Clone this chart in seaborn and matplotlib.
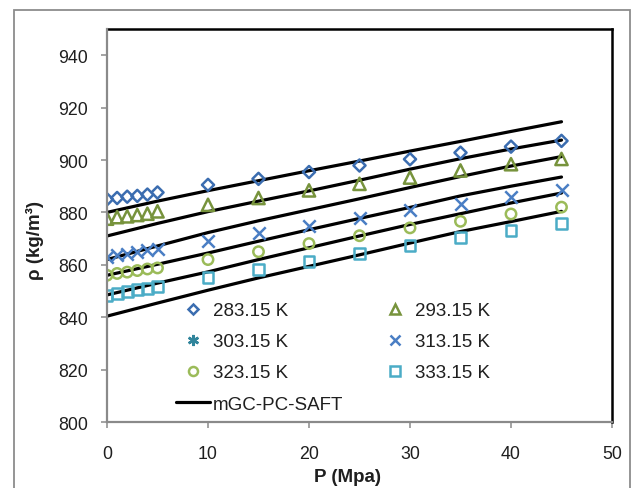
import matplotlib
matplotlib.use("Agg")
import matplotlib.pyplot as plt
import seaborn as sns
import pandas as pd
from matplotlib.lines import Line2D
from matplotlib.patches import Rectangle

# ---- experimental data (P in MPa, rho in kg/m3) ----
P_exp = [0, 1, 2, 3, 4, 5, 10, 15, 20, 25, 30, 35, 40, 45]
rho_283 = [885.0, 885.5, 886.0, 886.3, 886.8, 887.6, 890.5, 892.8, 895.4, 897.9, 900.3, 902.8, 905.1, 907.3]
rho_293 = [877.6, 878.2, 878.5, 879.0, 879.5, 880.4, 882.9, 885.5, 888.4, 890.9, 893.3, 896.0, 898.4, 900.4]
rho_303 = []  # listed in legend only
rho_313 = [863.0, 863.7, 864.3, 865.0, 865.5, 866.1, 869.2, 872.2, 875.0, 877.9, 880.8, 883.2, 885.7, 888.4]
rho_323 = [856.0, 856.7, 857.2, 857.8, 858.4, 858.8, 862.0, 865.0, 868.1, 871.1, 874.1, 876.6, 879.4, 882.0]
rho_333 = [848.4, 849.1, 849.7, 850.6, 851.0, 851.8, 855.0, 858.2, 861.4, 864.3, 867.3, 870.3, 873.0, 875.7]

# ---- model (mGC-PC-SAFT) curves ----
P_model = [0, 5, 10, 15, 20, 25, 30, 35, 40, 45]
model_283 = [880.0, 884.3, 888.3, 892.1, 895.9, 899.6, 903.4, 907.1, 910.9, 914.6]
model_293 = [871.0, 875.8, 880.3, 884.3, 888.2, 892.3, 896.5, 900.5, 904.2, 907.6]
model_303 = [862.0, 867.2, 872.3, 876.8, 881.0, 885.2, 889.5, 893.7, 897.7, 901.3]
model_313 = [856.0, 860.2, 864.5, 869.0, 873.4, 877.7, 881.9, 886.3, 890.0, 893.5]
model_323 = [848.5, 853.0, 857.3, 862.0, 866.5, 871.0, 875.4, 879.5, 883.6, 887.4]
model_333 = [840.4, 845.4, 850.3, 855.0, 859.4, 863.8, 868.3, 872.7, 876.5, 880.4]

labels = ["283.15 K", "293.15 K", "303.15 K", "313.15 K", "323.15 K", "333.15 K"]
model_label = "mGC-PC-SAFT"

exp_sets = [rho_283, rho_293, rho_303, rho_313, rho_323, rho_333]
model_sets = [model_283, model_293, model_303, model_313, model_323, model_333]

colors = ["#3B6DB0", "#77933C", "#31859C", "#4A7EC4", "#9BBB59", "#4BACC6"]
markers = ["D", "^", (6, 2, 0), "x", "o", "s"]
sizes = [38, 78, 70, 80, 56, 62]
leg_ms = [4.6, 7.5, 8.0, 7.5, 6.5, 7.0]

sns.set_theme(style="white")
plt.rcParams["font.family"] = ["Liberation Sans", "DejaVu Sans"]

W, H = 634, 489
fig = plt.figure(figsize=(W / 100, H / 100), dpi=100)
ax = fig.add_axes([107 / W, 1 - 423 / H, 505 / W, 393 / H])

# outer chart frame
fig.patches.append(Rectangle((14 / W, -0.05), (630 - 14) / W, 1.05 - 11 / H,
                             transform=fig.transFigure, fill=False,
                             edgecolor="#8C8C8C", linewidth=1.3, zorder=0))

# model lines
dfm = pd.DataFrame({
    "P": [p for _ in model_sets for p in P_model],
    "rho": [v for s in model_sets for v in s],
    "T": [lab for lab, s in zip(labels, model_sets) for _ in s],
})
sns.lineplot(data=dfm, x="P", y="rho", units="T", estimator=None, color="black",
             linewidth=2.3, ax=ax, legend=False, sort=False, zorder=2)

# experimental points
for vals, c, m, s in zip(exp_sets, colors, markers, sizes):
    if not vals:
        continue
    d = pd.DataFrame({"P": P_exp, "rho": vals})
    if m in ("x",):
        sns.scatterplot(data=d, x="P", y="rho", marker=m, s=s, color=c,
                        linewidth=1.8, ax=ax, legend=False, zorder=3)
    else:
        sns.scatterplot(data=d, x="P", y="rho", marker=m, s=s, color=c,
                        facecolor="none", edgecolor=c, linewidth=1.8,
                        ax=ax, legend=False, zorder=3)

ax.set_xlim(0, 50)
ax.set_ylim(800, 950)
ax.set_xticks([0, 10, 20, 30, 40, 50])
ax.set_yticks([800, 820, 840, 860, 880, 900, 920, 940])

gray = "#8A8A8A"
for side in ["left", "bottom"]:
    ax.spines[side].set_color(gray)
    ax.spines[side].set_linewidth(1.6)
for side in ["top", "right"]:
    ax.spines[side].set_color("black")
    ax.spines[side].set_linewidth(1.8)
ax.spines["left"].set_zorder(4)
ax.spines["bottom"].set_zorder(4)

ax.tick_params(axis="both", which="major", direction="out", length=4.5, width=1.1,
               color=gray, labelsize=12.8, labelcolor="#1F1F1F")
ax.tick_params(axis="x", pad=12, bottom=True)
ax.tick_params(axis="y", pad=9, left=True)

ax.set_xlabel("P (Mpa)", fontsize=13.5, fontweight="bold", color="#1F1F1F")
ax.set_ylabel("ρ (kg/m³)", fontsize=13.5, fontweight="bold", color="#1F1F1F")
ax.xaxis.set_label_coords((347 - 107) / 505, (423 - 478) / 393)
ax.yaxis.set_label_coords((35 - 107) / 505, (423 - 241) / 393)
ax.xaxis.label.set_va("center")
ax.yaxis.label.set_va("center")

# legend
h = []
for lab, c, m, ms in zip(labels, colors, markers, leg_ms):
    if m == "x" or m == (6, 2, 0):
        h.append(Line2D([], [], linestyle="none", marker=m, color=c, markersize=ms,
                        markeredgewidth=1.8, label=lab))
    else:
        h.append(Line2D([], [], linestyle="none", marker=m, markerfacecolor="none",
                        markeredgecolor=c, markersize=ms, markeredgewidth=1.8, label=lab))
hm = Line2D([], [], color="black", linewidth=2.3, label=model_label)
order = [h[0], h[2], h[4], hm, h[1], h[3], h[5]]
leg = ax.legend(handles=order, ncol=2, frameon=False, fontsize=13.5,
                loc="upper left", bbox_to_anchor=(176 / W, 1 - 303 / H),
                bbox_transform=fig.transFigure, borderpad=0, borderaxespad=0,
                handlelength=1.8, handletextpad=0.15, labelspacing=0.75,
                columnspacing=1.9)
for t in leg.get_texts():
    t.set_color("#1F1F1F")

fig.savefig("out.png", dpi=100, facecolor="white")
